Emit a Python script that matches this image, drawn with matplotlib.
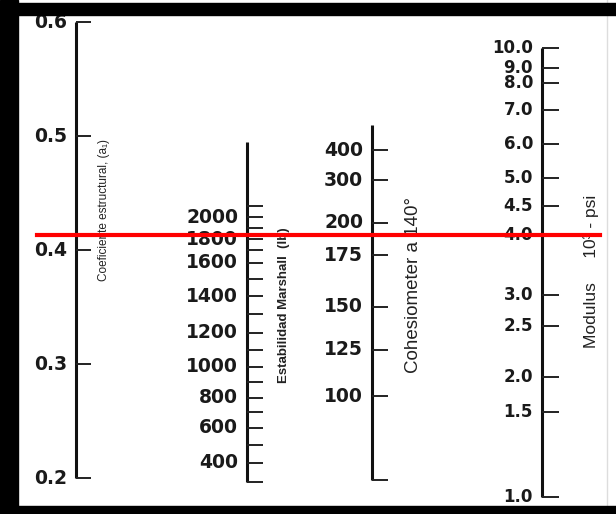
import matplotlib
matplotlib.use("Agg")
import matplotlib.pyplot as plt
from matplotlib.patches import Rectangle

# Nomograph: every scale is placed on the common a1 (structural coefficient) axis.
# For each tick value the list gives the equivalent a1 read across the chart.

a1_ticks = [0.2, 0.3, 0.4, 0.5, 0.6]

marshall_values = [300, 400, 500, 600, 700, 800, 900, 1000, 1100, 1200,
                   1300, 1400, 1500, 1600, 1700, 1800, 1900, 2000, 2100]
marshall_a1 = [0.1965, 0.2132, 0.2289, 0.2439, 0.2579, 0.2702, 0.2842, 0.2974,
               0.3123, 0.3272, 0.3439, 0.3596, 0.3746, 0.3886, 0.4000, 0.4096,
               0.4193, 0.4289, 0.4386]
marshall_labels = [400, 600, 800, 1000, 1200, 1400, 1600, 1800, 2000]
marshall_top = 0.495

cohesion_values = [75, 100, 125, 150, 175, 200, 300, 400]
cohesion_a1 = [0.1982, 0.2719, 0.3123, 0.3500, 0.3956, 0.4237, 0.4614, 0.4877]
cohesion_labels = [100, 125, 150, 175, 200, 300, 400]
cohesion_top = 0.5096

modulus_values = [1.0, 1.5, 2.0, 2.5, 3.0, 4.0, 4.5, 5.0, 6.0, 7.0, 8.0, 9.0, 10.0]
modulus_a1 = [0.1833, 0.2579, 0.2886, 0.3333, 0.3605, 0.4132, 0.4386, 0.4632,
              0.4930, 0.5228, 0.5465, 0.5596, 0.5772]

red_line_a1 = 0.4132

W, H = 616, 514
fig = plt.figure(figsize=(W / 100, H / 100), dpi=100)
ax = fig.add_axes([0, 0, 1, 1])
ax.set_xlim(0, W)
ax.set_ylim(0.6 - (H - 22) / 1140, 0.6 + 22 / 1140)
ax.axis("off")

num_font = dict(family="DejaVu Sans", fontweight="bold", color="#1a1a1a")
title_font = ["Liberation Sans", "DejaVu Sans"]


def draw_scale(x, lo, hi, tick_a1, tick_len, labels, label_a1, size=13.5):
    ax.plot([x, x], [lo, hi], color="#111111", lw=2.2, solid_capstyle="butt")
    ax.hlines(tick_a1, x, x + tick_len, color="#222222", lw=1.4)
    for lab, y in zip(labels, label_a1):
        ax.text(x - 9, y, lab, ha="right", va="center", fontsize=size, **num_font)


# a1 scale
draw_scale(76, a1_ticks[0], a1_ticks[-1], a1_ticks, 15,
           [f"{v:.1f}" for v in a1_ticks], a1_ticks)
ax.text(104, 0.435, "Coeficiente estructural, (a\u2081)", rotation=90, ha="center",
        va="center", fontsize=8.5, family=title_font, color="#222222")

# Marshall stability
m_lookup = dict(zip(marshall_values, marshall_a1))
draw_scale(247, marshall_a1[0], marshall_top, marshall_a1, 16,
           [str(v) for v in marshall_labels], [m_lookup[v] for v in marshall_labels])
ax.text(284, 0.352, "Estabilidad Marshall  (lb)", rotation=90, ha="center",
        va="center", fontsize=9.5, fontweight="bold", family=title_font,
        color="#222222")

# Cohesiometer
c_lookup = dict(zip(cohesion_values, cohesion_a1))
draw_scale(372, cohesion_a1[0], cohesion_top, cohesion_a1, 16,
           [str(v) for v in cohesion_labels], [c_lookup[v] for v in cohesion_labels])
ax.text(413, 0.369, "Cohesiometer a 140\u00b0", rotation=90, ha="center",
        va="center", fontsize=13.5, family=title_font, color="#222222")

# Modulus
draw_scale(542, modulus_a1[0], modulus_a1[-1], modulus_a1, 17,
           [f"{v:.1f}" for v in modulus_values], modulus_a1, size=12)
ax.text(591, 0.381, "Modulus     10\u00b3 - psi", rotation=90, ha="center",
        va="center", fontsize=12.5, family=title_font, color="#222222")

# reading line
ax.plot([37, 600], [red_line_a1, red_line_a1], color="#ff0000", lw=3, zorder=5)

# black frame of the scanned figure
for rect in [(0, 0, 18 / W, 1), (0, (H - 15) / H, 1, 12 / H), (0, 0, 1, 8 / H)]:
    ax.add_patch(Rectangle(rect[:2], rect[2], rect[3], transform=ax.transAxes,
                           color="black", zorder=10))
ax.plot([607 / W, 607 / W], [0, 1], transform=ax.transAxes, color="#dddddd", lw=1)

fig.savefig("out.png", dpi=100)
